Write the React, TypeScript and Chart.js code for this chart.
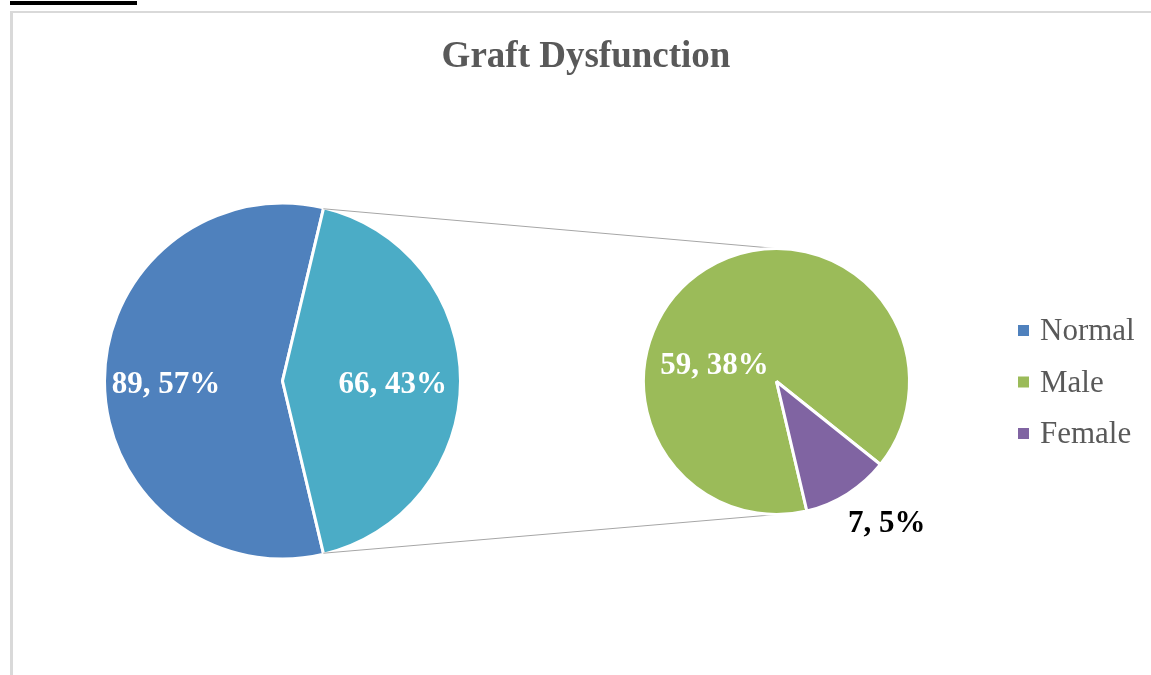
import React, { useEffect, useRef } from "react";
import { Chart, registerables } from "chart.js";
Chart.register(...registerables);

const TITLE = "Graft Dysfunction";
const mainLabels = ["Normal", "Other"];
const mainValues = [89, 66];
const mainColors = ["#4F81BD", "#4BACC6"];
const subLabels = ["Male", "Female"];
const subValues = [59, 7];
const subColors = ["#9BBB59", "#8064A2"];
const legendLabels = ["Normal", "Male", "Female"];
const legendColors = ["#4F81BD", "#9BBB59", "#8064A2"];

const W = 1151;
const H = 675;
const SERIF = "'Liberation Serif', 'Times New Roman', serif";

const total = mainValues.reduce((a, b) => a + b, 0);
const fmt = (v: number) => `${v}, ${Math.round((v / total) * 100)}%`;

// label placement: angle (deg clockwise from top, null = slice middle) and radius factor
const mainPlacement = [
  { angle: null as number | null, factor: 0.655, color: "#ffffff" },
  { angle: null as number | null, factor: 0.62, color: "#ffffff" },
];
const subPlacement = [
  { angle: 288 as number | null, factor: 0.49, color: "#ffffff" },
  { angle: 141.4 as number | null, factor: 1.33, color: "#000000" },
];

function drawSliceLabel(ctx: CanvasRenderingContext2D, arc: any, text: string, p: any) {
  const a = p.angle === null ? (arc.startAngle + arc.endAngle) / 2 : ((p.angle - 90) * Math.PI) / 180;
  const x = arc.x + Math.cos(a) * arc.outerRadius * p.factor;
  const y = arc.y + Math.sin(a) * arc.outerRadius * p.factor;
  const size = 31;
  ctx.save();
  ctx.font = `bold ${size}px ${SERIF}`;
  ctx.fillStyle = p.color;
  ctx.textAlign = "center";
  ctx.textBaseline = "alphabetic";
  ctx.fillText(text, x, y + size * 0.4);
  ctx.restore();
}

export default function App() {
  const leftRef = useRef<HTMLCanvasElement>(null);
  const rightRef = useRef<HTMLCanvasElement>(null);

  useEffect(() => {
    const left = new Chart(leftRef.current!, {
      type: "pie",
      data: {
        labels: mainLabels,
        datasets: [
          {
            data: mainValues,
            backgroundColor: mainColors,
            borderColor: "#ffffff",
            borderWidth: 3,
          },
        ],
      },
      options: {
        responsive: false,
        animation: false,
        rotation: 166.65,
        layout: { padding: { left: 103, right: 689, top: 201, bottom: 114 } },
        plugins: { legend: { display: false }, tooltip: { enabled: false }, title: { display: false } },
      },
    });

    const overlay = {
      id: "overlay",
      beforeDatasetsDraw(chart: any) {
        const ctx: CanvasRenderingContext2D = chart.ctx;
        const lArc: any = left.getDatasetMeta(0).data[1];
        const rArc: any = chart.getDatasetMeta(0).data[0];
        if (!lArc || !rArc) return;
        const R = lArc.outerRadius - 1;
        const p1 = { x: lArc.x + Math.cos(lArc.startAngle) * R, y: lArc.y + Math.sin(lArc.startAngle) * R };
        const p2 = { x: lArc.x + Math.cos(lArc.endAngle) * R, y: lArc.y + Math.sin(lArc.endAngle) * R };
        const rr = rArc.outerRadius;
        ctx.save();
        ctx.strokeStyle = "#a6a6a6";
        ctx.lineWidth = 1;
        ctx.beginPath();
        ctx.moveTo(p1.x, p1.y);
        ctx.lineTo(rArc.x, rArc.y - rr);
        ctx.moveTo(p2.x, p2.y);
        ctx.lineTo(rArc.x, rArc.y + rr);
        ctx.stroke();
        ctx.restore();
      },
      afterDraw(chart: any) {
        const ctx: CanvasRenderingContext2D = chart.ctx;
        // title
        ctx.save();
        ctx.font = `bold 37px ${SERIF}`;
        ctx.fillStyle = "#595959";
        ctx.textAlign = "center";
        ctx.textBaseline = "alphabetic";
        ctx.fillText(TITLE, 586, 67);
        ctx.restore();
        // slice labels
        left.getDatasetMeta(0).data.forEach((arc: any, i: number) =>
          drawSliceLabel(ctx, arc, fmt(mainValues[i]), mainPlacement[i])
        );
        chart.getDatasetMeta(0).data.forEach((arc: any, i: number) =>
          drawSliceLabel(ctx, arc, fmt(subValues[i]), subPlacement[i])
        );
        // legend
        ctx.save();
        ctx.font = `31px ${SERIF}`;
        ctx.textAlign = "left";
        ctx.textBaseline = "alphabetic";
        legendLabels.forEach((lab, i) => {
          const cy = 330 + i * 51.5;
          ctx.fillStyle = legendColors[i];
          ctx.fillRect(1018, cy - 5, 11, 11);
          ctx.fillStyle = "#595959";
          ctx.fillText(lab, 1040, cy + 10);
        });
        ctx.restore();
      },
    };

    const right = new Chart(rightRef.current!, {
      type: "pie",
      data: {
        labels: subLabels,
        datasets: [
          {
            data: subValues,
            backgroundColor: subColors,
            borderColor: "#ffffff",
            borderWidth: 3,
          },
        ],
      },
      options: {
        responsive: false,
        animation: false,
        rotation: 166.8,
        layout: { padding: { left: 642, right: 240, top: 247, bottom: 159 } },
        plugins: { legend: { display: false }, tooltip: { enabled: false }, title: { display: false } },
      },
      plugins: [overlay],
    });

    return () => {
      right.destroy();
      left.destroy();
    };
  }, []);

  const canvasStyle: React.CSSProperties = {
    position: "absolute",
    left: 0,
    top: 0,
    width: W,
    height: H,
  };

  return (
    <div style={{ position: "fixed", left: 0, top: 0, width: W, height: H, background: "#ffffff", overflow: "hidden" }}>
      <div style={{ position: "absolute", left: 10, top: 1, width: 127, height: 4, background: "#000" }} />
      <div
        style={{
          position: "absolute",
          left: 10,
          top: 11,
          width: W - 10,
          height: H - 11,
          borderTop: "2px solid #d9d9d9",
          borderLeft: "3px solid #d9d9d9",
          boxSizing: "border-box",
        }}
      />
      <canvas ref={leftRef} width={W} height={H} style={canvasStyle} />
      <canvas ref={rightRef} width={W} height={H} style={canvasStyle} />
    </div>
  );
}
